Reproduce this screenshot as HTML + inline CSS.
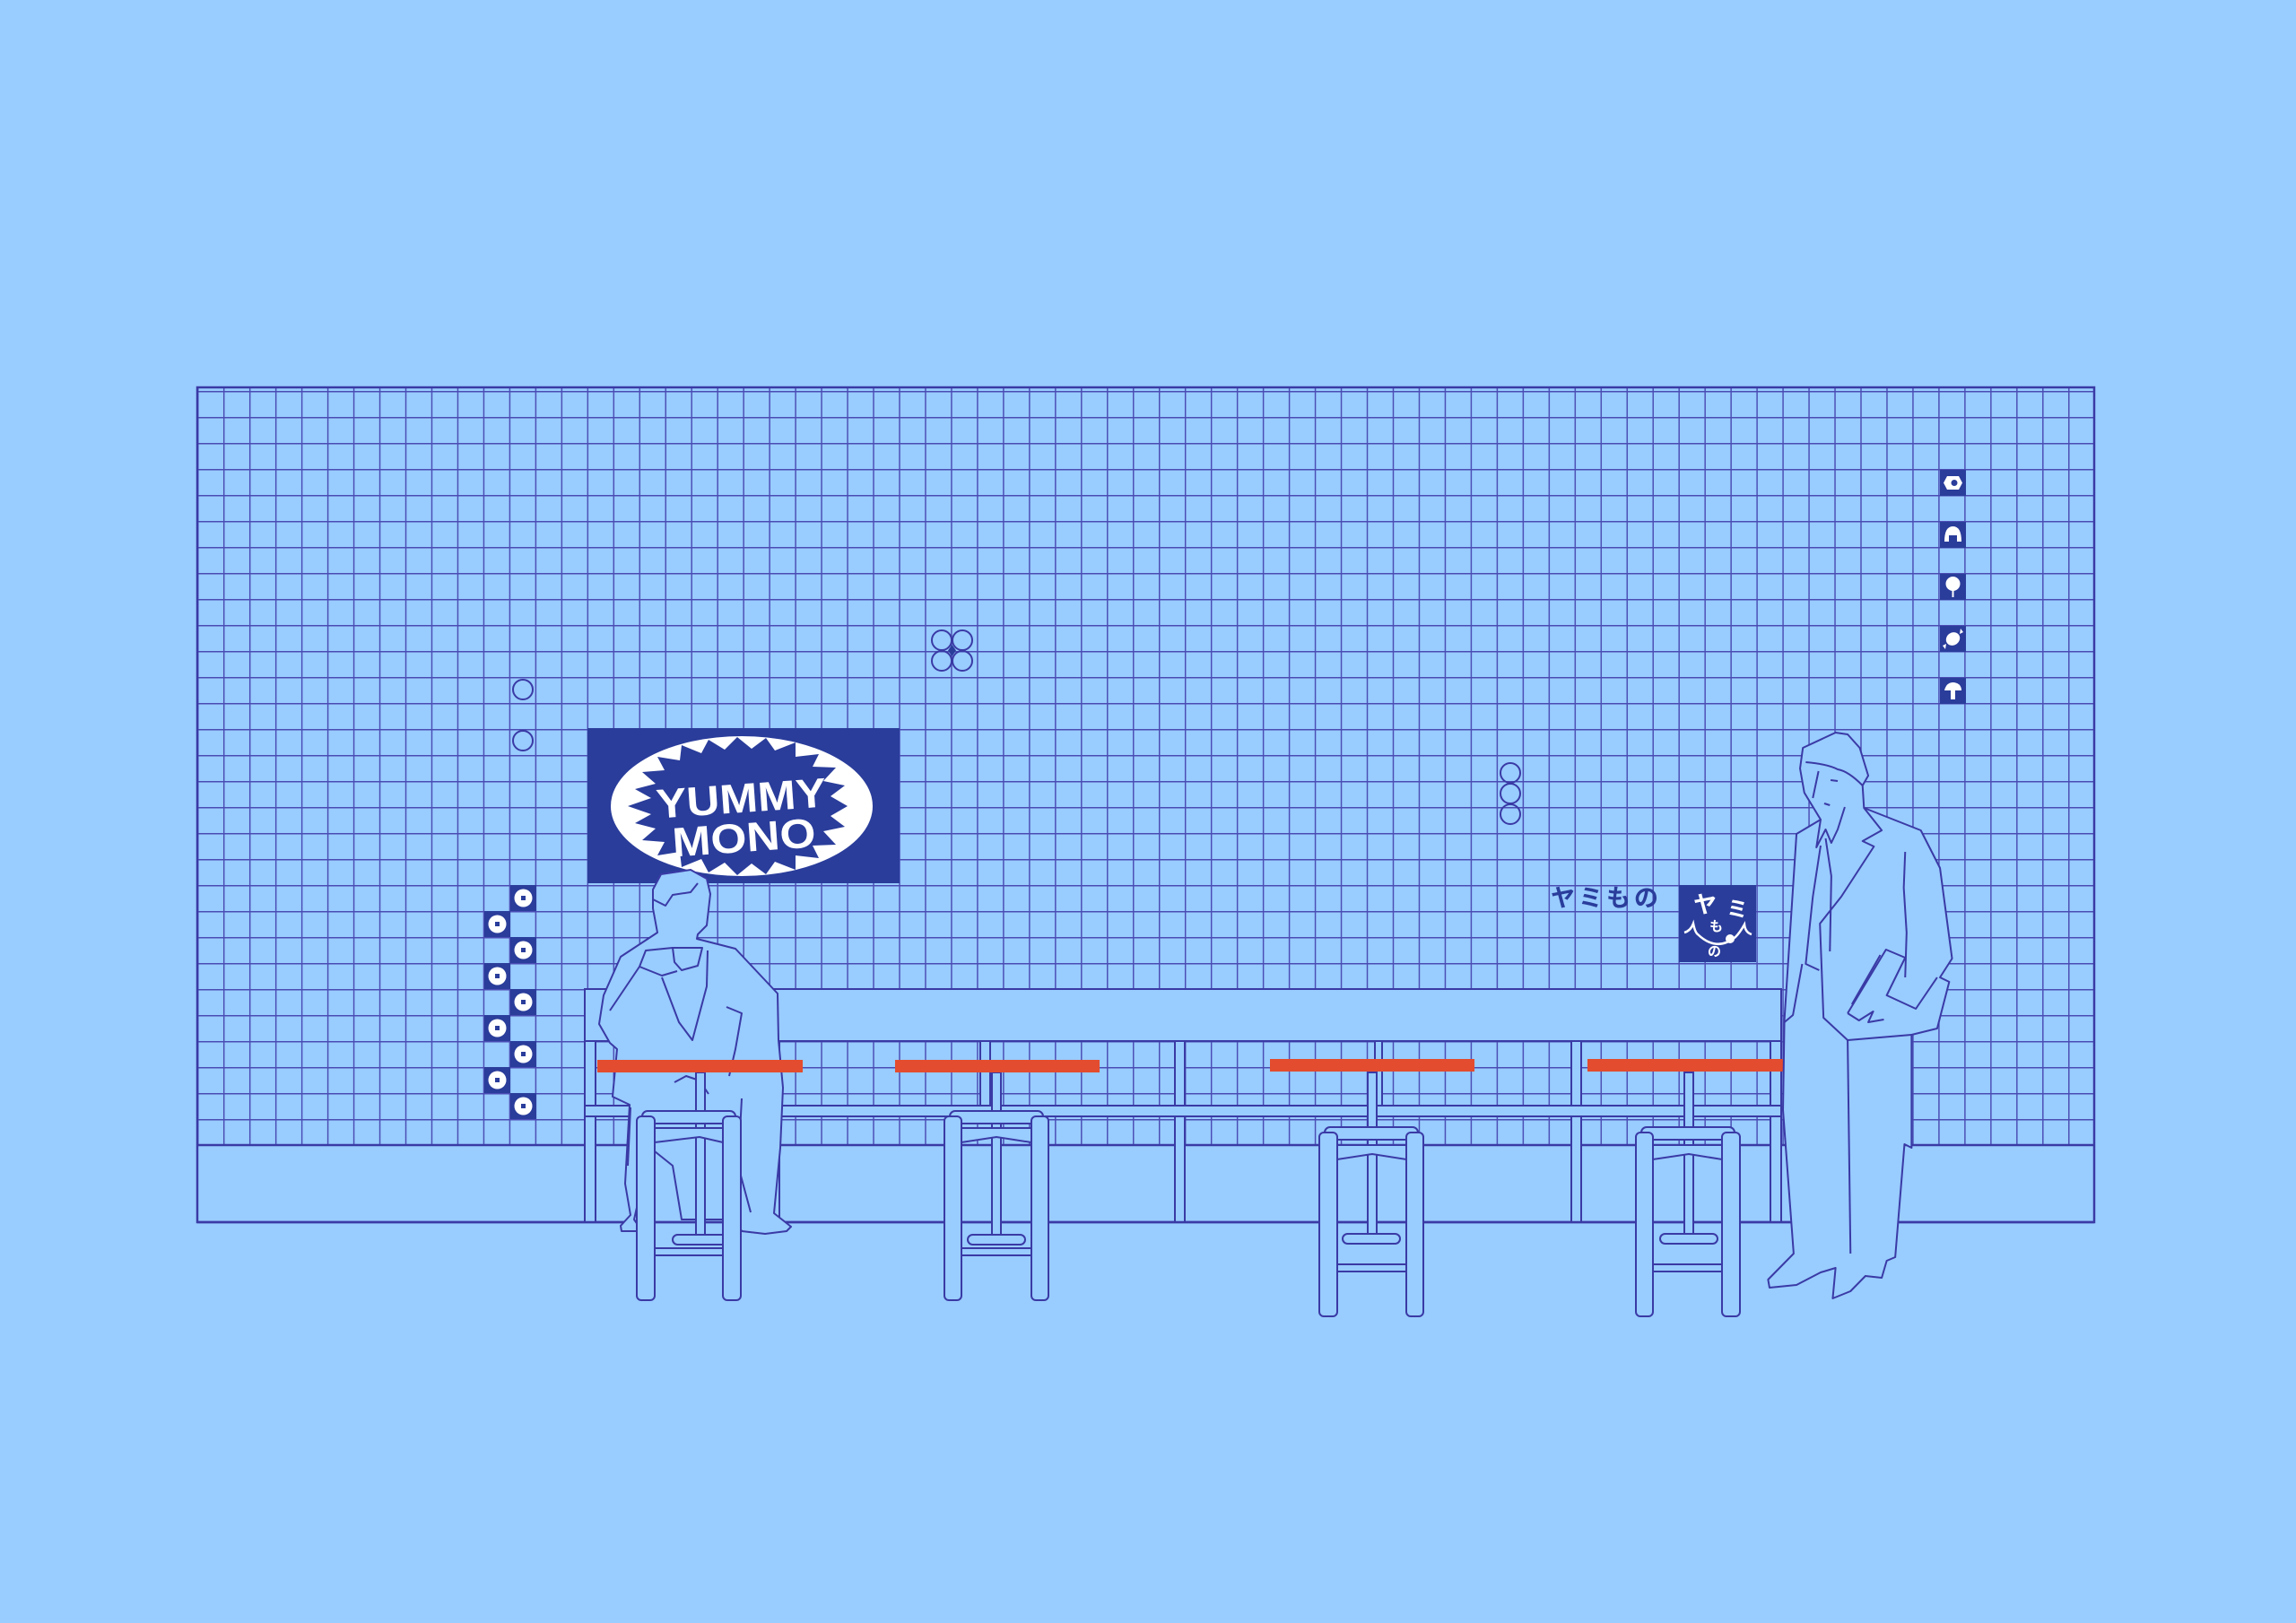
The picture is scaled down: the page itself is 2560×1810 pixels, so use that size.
<!DOCTYPE html>
<html><head><meta charset="utf-8"><style>
html,body{margin:0;padding:0;background:#99ccff;}
svg{display:block;}
</style></head><body>
<svg width="2560" height="1810" viewBox="0 0 2560 1810" xmlns="http://www.w3.org/2000/svg">
<defs>
<pattern id="g" x="220" y="465" width="28.973" height="29" patternUnits="userSpaceOnUse">
<line x1="0.7" y1="0" x2="0.7" y2="29" stroke="#4a4cb3" stroke-width="1.5"/>
<line x1="0" y1="0.7" x2="28.973" y2="0.7" stroke="#4a4cb3" stroke-width="1.5"/>
</pattern>
</defs>
<rect width="2560" height="1810" fill="#99ccff"/>
<rect x="220" y="432" width="2115" height="845" fill="url(#g)"/>
<rect x="220" y="432" width="2115" height="931" fill="none" stroke="#3a3aa5" stroke-width="2.5"/>
<line x1="220" y1="1277" x2="2335" y2="1277" stroke="#3a3aa5" stroke-width="2.5"/>

<g fill="none" stroke="#3a3aa5" stroke-width="2">
<circle cx="583" cy="769" r="11"/><circle cx="583" cy="826" r="11"/>
<circle cx="1050" cy="714" r="11"/><circle cx="1073" cy="714" r="11"/><circle cx="1050" cy="737" r="11"/><circle cx="1073" cy="737" r="11"/>
<circle cx="1684" cy="862" r="11"/><circle cx="1684" cy="885" r="11"/><circle cx="1684" cy="908" r="11"/>
</g>
<polygon points="1061.5,719 1066,725.5 1061.5,732 1057,725.5" fill="#2a3d9b"/>

<g>
<g fill="#2a3d9b">
<rect x="569" y="987" width="29" height="29"/><rect x="540" y="1016" width="29" height="29"/>
<rect x="569" y="1045" width="29" height="29"/><rect x="540" y="1074" width="29" height="29"/>
<rect x="569" y="1103" width="29" height="29"/><rect x="540" y="1132" width="29" height="29"/>
<rect x="569" y="1161" width="29" height="29"/><rect x="540" y="1190" width="29" height="29"/>
<rect x="569" y="1219" width="29" height="29"/>
</g>
<g fill="#fff">
<circle cx="583.5" cy="1001.5" r="10"/><circle cx="554.5" cy="1030.5" r="10"/>
<circle cx="583.5" cy="1059.5" r="10"/><circle cx="554.5" cy="1088.5" r="10"/>
<circle cx="583.5" cy="1117.5" r="10"/><circle cx="554.5" cy="1146.5" r="10"/>
<circle cx="583.5" cy="1175.5" r="10"/><circle cx="554.5" cy="1204.5" r="10"/>
<circle cx="583.5" cy="1233.5" r="10"/>
</g>
<g fill="#2a3d9b">
<rect x="581" y="999" width="5" height="5"/><rect x="552" y="1028" width="5" height="5"/>
<rect x="581" y="1057" width="5" height="5"/><rect x="552" y="1086" width="5" height="5"/>
<rect x="581" y="1115" width="5" height="5"/><rect x="552" y="1144" width="5" height="5"/>
<rect x="581" y="1173" width="5" height="5"/><rect x="552" y="1202" width="5" height="5"/>
<rect x="581" y="1231" width="5" height="5"/>
</g>
</g>

<g>
<g fill="#2a3d9b">
<rect x="2163" y="524" width="29" height="29"/><rect x="2163" y="582" width="29" height="29"/>
<rect x="2163" y="640" width="29" height="29"/><rect x="2163" y="698" width="29" height="29"/>
<rect x="2163" y="756" width="29" height="29"/>
</g>
<polygon points="2171,531 2184,531 2188,538.5 2184,546 2171,546 2167,538.5" fill="#fff"/>
<circle cx="2179" cy="538.5" r="3.5" fill="#2a3d9b"/>
<path d="M2168,604 Q2168,587 2177.5,587 Q2187,587 2187,604 L2182,604 L2182,597 L2173,597 L2173,604 Z" fill="#fff"/>
<circle cx="2177.5" cy="651" r="8" fill="#fff"/><rect x="2176.5" y="657" width="2" height="9" fill="#fff"/>
<ellipse cx="2177.5" cy="712.5" rx="8" ry="7" fill="#fff" transform="rotate(-35 2177.5 712.5)"/>
<polygon points="2166,720 2170,718 2169,724" fill="#fff"/><polygon points="2189,705 2185,707 2186,701" fill="#fff"/>
<path d="M2168,770 Q2170,761 2178,761 Q2187,762 2187,770 Z" fill="#fff"/><rect x="2175" y="769" width="5" height="11" fill="#fff"/>
</g>

<rect x="655" y="812" width="348" height="173" fill="#2a3d9b"/>
<ellipse cx="827" cy="899" rx="146" ry="78" fill="#fff"/>
<polygon fill="#2a3d9b" points="
945,899 926,910 942,922 918,927 932,942 906,943 913,957 887,954 887,970 864,961 854,975 838,963 822,976 808,962 790,973 782,958 760,967 758,950 733,954 741,939 716,937 731,924 708,918 726,908 700,899 726,890 708,880 731,874 716,861 741,859 733,844 758,848 760,831 782,840 790,825 808,836 822,822 838,835 854,823 864,837 887,828 887,844 913,841 906,855 932,856 918,871 942,876 926,888"/>
<g transform="rotate(-4 827 899)" fill="#fff" font-family="Liberation Sans, sans-serif" font-weight="bold" text-anchor="middle">
<text x="827" y="906" font-size="46" textLength="190" lengthAdjust="spacingAndGlyphs">YUMMY</text>
<text x="827" y="950" font-size="46" textLength="160" lengthAdjust="spacingAndGlyphs">MONO</text>
</g>

<text x="1729" y="1011" font-family="Liberation Sans, 'Noto Sans CJK JP', sans-serif" font-weight="bold" font-size="27" fill="#2a3d9b" letter-spacing="4">ヤミもの</text>
<rect x="1872" y="987" width="86" height="86" fill="#2a3d9b"/>
<g font-family="Liberation Sans, 'Noto Sans CJK JP', sans-serif" font-weight="bold" fill="#fff">
<text x="1888" y="1018" font-size="26">ヤ</text>
<text x="1925" y="1022" font-size="24">ミ</text>
<text x="1906" y="1038" font-size="15">も</text>
<text x="1904" y="1066" font-size="15">の</text>
</g>
<path d="M1878,1040 Q1885,1038 1888,1030 Q1890,1040 1893,1042 Q1914,1062 1935,1045 Q1940,1040 1945,1031 Q1946,1040 1953,1042" fill="none" stroke="#fff" stroke-width="2.5"/>
<circle cx="1929" cy="1047" r="5" fill="#fff"/>

<g fill="#99ccff" stroke="#3a3aa5" stroke-width="2">
<rect x="652" y="1103" width="1334" height="58"/>
<rect x="652" y="1161" width="12" height="202"/>
<rect x="858" y="1161" width="11" height="202"/>
<rect x="1093" y="1161" width="11" height="80"/>
<rect x="1310" y="1161" width="11" height="202"/>
<rect x="1533" y="1161" width="8" height="80"/>
<rect x="1752" y="1161" width="11" height="202"/>
<rect x="1974" y="1161" width="12" height="202"/>
<rect x="652" y="1233" width="1334" height="12"/>
</g>
<line x1="220" y1="1363" x2="2335" y2="1363" stroke="#3a3aa5" stroke-width="2.5"/>

<g fill="#99ccff" stroke="#3a3aa5" stroke-width="2" stroke-linejoin="round">
<polygon points="728,992 737,975 770,970 788,980 792,997 788,1032 778,1042 777,1047 820,1058 867,1108 868,1160 873,1213 870,1280 863,1353 882,1368 877,1373 853,1376 827,1373 820,1360 760,1360 750,1300 725,1280 707,1360 716,1373 693,1373 692,1367 703,1355 697,1320 702,1232 683,1223 688,1170 680,1163 668,1142 673,1110 692,1067 733,1040 728,1013"/>
</g>
<g fill="none" stroke="#3a3aa5" stroke-width="2" stroke-linejoin="round">
<path d="M728,1003 L742,1010 L750,998 L770,995 L778,985"/>
<path d="M680,1127 L713,1078 L720,1060 L750,1057"/>
<path d="M713,1078 L738,1088 L755,1083"/>
<path d="M750,1057 L783,1057 L778,1077 L760,1082 L752,1073 Z"/>
<path d="M738,1090 L757,1140 L772,1160 L788,1100 L789,1060"/>
<path d="M810,1123 L827,1130 L820,1170 L813,1200"/>
<path d="M827,1225 L823,1300 L837,1352"/>
<path d="M752,1207 L765,1200 L780,1205 L790,1220"/>
<path d="M703,1235 L700,1300"/>
</g>

<g fill="#99ccff" stroke="#3a3aa5" stroke-width="2">
<rect x="776" y="1196" width="10" height="182"/>
<rect x="1106" y="1196" width="10" height="182"/>
<rect x="1525" y="1196" width="10" height="182"/>
<rect x="1878" y="1196" width="10" height="182"/>
</g>
<g fill="#e34c2e">
<rect x="666" y="1182" width="229" height="14"/>
<rect x="998" y="1182" width="228" height="14"/>
<rect x="1416" y="1181" width="228" height="14"/>
<rect x="1770" y="1181" width="229" height="14"/>
</g>

<g fill="#99ccff" stroke="#3a3aa5" stroke-width="2">
<rect x="750" y="1377" width="64" height="11" rx="5.5"/>
<rect x="730" y="1392" width="76" height="8"/>
<path d="M730,1258 L806,1258 L806,1274 L780,1268 L730,1274 Z"/>
<rect x="716" y="1239" width="104" height="14" rx="6"/>
<rect x="710" y="1245" width="20" height="205" rx="5"/>
<rect x="806" y="1245" width="20" height="205" rx="5"/>

<rect x="1079" y="1377" width="64" height="11" rx="5.5"/>
<rect x="1072" y="1392" width="78" height="8"/>
<path d="M1072,1258 L1150,1258 L1150,1274 L1111,1268 L1072,1274 Z"/>
<rect x="1059" y="1239" width="104" height="14" rx="6"/>
<rect x="1053" y="1245" width="19" height="205" rx="5"/>
<rect x="1150" y="1245" width="19" height="205" rx="5"/>

<rect x="1497" y="1376" width="64" height="11" rx="5.5"/>
<rect x="1491" y="1410" width="77" height="8"/>
<path d="M1491,1277 L1568,1277 L1568,1293 L1530,1287 L1491,1293 Z"/>
<rect x="1477" y="1257" width="104" height="14" rx="6"/>
<rect x="1471" y="1263" width="20" height="205" rx="5"/>
<rect x="1568" y="1263" width="19" height="205" rx="5"/>

<rect x="1851" y="1376" width="64" height="11" rx="5.5"/>
<rect x="1843" y="1410" width="77" height="8"/>
<path d="M1843,1277 L1920,1277 L1920,1293 L1883,1287 L1843,1293 Z"/>
<rect x="1830" y="1257" width="104" height="14" rx="6"/>
<rect x="1824" y="1263" width="19" height="205" rx="5"/>
<rect x="1920" y="1263" width="20" height="205" rx="5"/>
</g>

<g transform="translate(1950,0) scale(0.792,1) translate(-1950,0)">
<g fill="#99ccff" stroke="#3a3aa5" stroke-width="2" stroke-linejoin="round">
<polygon vector-effect="non-scaling-stroke" points="2072,817 2026,834 2022,857 2028,884 2051,914 2017,930 2000,1137 1998,1238 2013,1398 1977,1427 1979,1436 2017,1433 2051,1419 2072,1414 2068,1448 2093,1440 2114,1423 2137,1425 2144,1406 2156,1402 2169,1276 2179,1280 2179,1154 2215,1147 2232,1095 2219,1090 2236,1069 2219,968 2192,926 2112,901 2110,876 2118,865 2106,834 2089,819"/>
</g>
<g fill="none" stroke="#3a3aa5" stroke-width="2" stroke-linejoin="round">
<path vector-effect="non-scaling-stroke" d="M2030,850 Q2060,852 2075,858 Q2090,860 2110,876"/>
<path vector-effect="non-scaling-stroke" d="M2048,860 L2040,890"/>
<path vector-effect="non-scaling-stroke" d="M2065,870 L2075,871"/>
<path vector-effect="non-scaling-stroke" d="M2056,896 L2064,898"/>
<path vector-effect="non-scaling-stroke" d="M2051,914 L2045,945 L2058,925 L2066,940 L2075,925 L2085,900"/>
<path vector-effect="non-scaling-stroke" d="M2051,943 L2040,1000 L2030,1075 L2049,1082"/>
<path vector-effect="non-scaling-stroke" d="M2058,935 L2066,977 L2064,1061"/>
<path vector-effect="non-scaling-stroke" d="M2112,901 L2137,926 L2110,938 L2126,944 L2080,1000 L2050,1030 L2055,1135 L2089,1160 L2179,1154"/>
<path vector-effect="non-scaling-stroke" d="M2170,950 L2168,990 L2172,1040 L2170,1090"/>
<path vector-effect="non-scaling-stroke" d="M2089,1160 L2093,1398"/>
<path vector-effect="non-scaling-stroke" d="M2000,1140 L2012,1132 L2025,1075"/>
<path vector-effect="non-scaling-stroke" d="M2089,1130 L2143,1059 L2170,1068 L2144,1110 L2185,1125 L2215,1090"/>
<path vector-effect="non-scaling-stroke" d="M2089,1130 L2105,1138 L2125,1128 L2118,1140 L2140,1137"/>
<path vector-effect="non-scaling-stroke" d="M2095,1120 L2135,1065"/>
</g>
</g>
</svg>
</body></html>
